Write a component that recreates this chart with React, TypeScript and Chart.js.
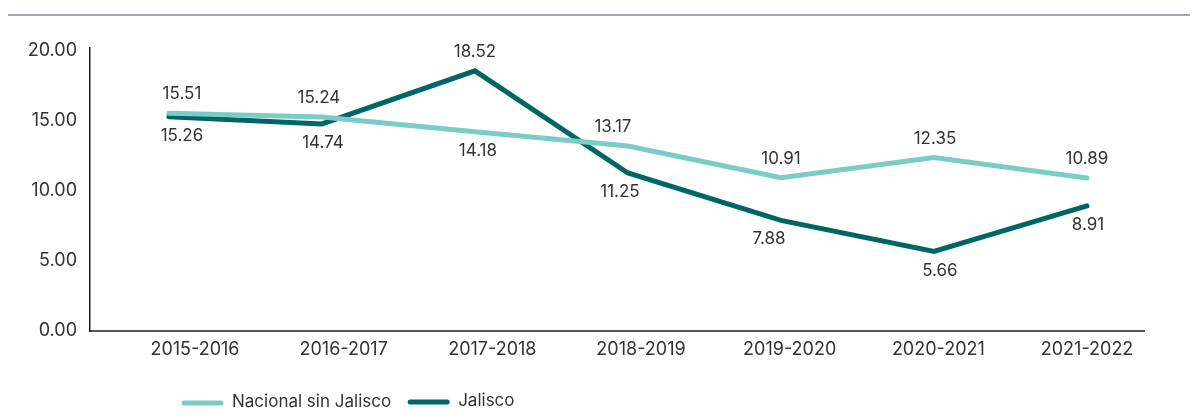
import React, { useEffect, useRef } from "react";
import { Chart, registerables } from "chart.js";

Chart.register(...registerables);

// ---- Data ----
const categories = ["2015-2016", "2016-2017", "2017-2018", "2018-2019", "2019-2020", "2020-2021", "2021-2022"];
const nacionalValues = [15.51, 15.24, 14.18, 13.17, 10.91, 12.35, 10.89];
const jaliscoValues = [15.26, 14.74, 18.52, 11.25, 7.88, 5.66, 8.91];
const yTickValues = [0, 5, 10, 15, 20];
const seriesNames = ["Nacional sin Jalisco", "Jalisco"];

// label placement (above / below the point)
const nacionalLabelSide = ["above", "above", "below", "above", "above", "above", "above"];
const jaliscoLabelSide = ["below", "below", "above", "below", "below", "below", "below"];
const nacionalLabelShift = [13, -3, 3, -15, 0, 1, 0];
const jaliscoLabelShift = [13, 1, 0, -8, -12, 6, 1];

const FONT = "Inter, 'Noto Sans', sans-serif";
const TEXT_COLOR = "#333333";
const LIGHT = "#7acdc6";
const DARK = "#006565";

const decorPlugin = {
  id: "decor",
  beforeDraw(chart: any) {
    const ctx = chart.ctx;
    ctx.save();
    ctx.strokeStyle = "#a3abb0";
    ctx.lineWidth = 2;
    ctx.beginPath();
    ctx.moveTo(0, 7);
    ctx.lineTo(chart.width, 7);
    ctx.stroke();
    ctx.restore();
  },
  afterDatasetsDraw(chart: any) {
    const ctx = chart.ctx;
    ctx.save();
    ctx.font = `17px ${FONT}`;
    ctx.fillStyle = TEXT_COLOR;
    ctx.textAlign = "center";
    ctx.textBaseline = "middle";
    const sides = [nacionalLabelSide, jaliscoLabelSide];
    const shifts = [nacionalLabelShift, jaliscoLabelShift];
    chart.data.datasets.forEach((ds: any, di: number) => {
      const meta = chart.getDatasetMeta(di);
      meta.data.forEach((pt: any, i: number) => {
        const v = ds.data[i].y;
        const dy = sides[di][i] === "above" ? -19 : 19;
        ctx.fillText(v.toFixed(2), pt.x + shifts[di][i], pt.y + dy);
      });
    });
    ctx.restore();
  },
  afterDraw(chart: any) {
    const ctx = chart.ctx;
    ctx.save();
    ctx.font = `17px ${FONT}`;
    ctx.textBaseline = "middle";
    ctx.textAlign = "left";
    let x = 174;
    const y = 395;
    const colors = [LIGHT, DARK];
    seriesNames.forEach((name, i) => {
      ctx.strokeStyle = colors[i];
      ctx.lineWidth = 5;
      ctx.lineCap = "round";
      ctx.beginPath();
      ctx.moveTo(x + 2, y - i);
      ctx.lineTo(x + 39, y - i);
      ctx.stroke();
      ctx.fillStyle = TEXT_COLOR;
      ctx.fillText(name, x + 50, y - 1 - i);
      x += 50 + ctx.measureText(name).width + 17;
    });
    ctx.restore();
  },
};

export default function App() {
  const ref = useRef<HTMLCanvasElement | null>(null);

  useEffect(() => {
    if (!ref.current) return;
    const chart = new Chart(ref.current, {
      type: "line",
      data: {
        datasets: [
          {
            label: seriesNames[0],
            data: nacionalValues.map((v, i) => ({ x: i, y: v })),
            borderColor: LIGHT,
            backgroundColor: LIGHT,
            borderWidth: 5,
            borderCapStyle: "round",
            pointRadius: 0,
            xAxisID: "x2",
            yAxisID: "y",
          },
          {
            label: seriesNames[1],
            data: jaliscoValues.map((v, i) => ({ x: i, y: v })),
            borderColor: DARK,
            backgroundColor: DARK,
            borderWidth: 5,
            borderCapStyle: "round",
            pointRadius: 0,
            xAxisID: "x2",
            yAxisID: "y",
          },
        ],
      },
      options: {
        responsive: true,
        maintainAspectRatio: false,
        animation: false,
        layout: { padding: { top: 40, right: 46, left: 0, bottom: 0 } },
        plugins: { legend: { display: false }, tooltip: { enabled: false } },
        scales: {
          x: {
            type: "linear",
            position: "bottom",
            min: -0.706,
            max: 6.383,
            afterBuildTicks: (s: any) => {
              s.ticks = categories.map((_, i) => ({ value: i }));
            },
            afterFit: (s: any) => {
              s.height = 81;
            },
            grid: { display: false, drawTicks: false },
            border: { display: true, color: "#555555", width: 2 },
            ticks: {
              callback: (v: any) => categories[v],
              font: { family: FONT, size: 18 },
              color: TEXT_COLOR,
              padding: 8,
              maxRotation: 0,
              autoSkip: false,
            },
          },
          x2: {
            type: "linear",
            display: false,
            min: -0.516,
            max: 6.373,
          },
          y: {
            min: 0,
            max: 20.15,
            afterBuildTicks: (s: any) => {
              s.ticks = yTickValues.map((v) => ({ value: v }));
            },
            afterFit: (s: any) => {
              s.width = 82;
            },
            grid: { display: false, drawTicks: false },
            border: { display: true, color: "#222222", width: 1.5 },
            ticks: {
              callback: (v: any) => Number(v).toFixed(2),
              font: { family: FONT, size: 18 },
              color: TEXT_COLOR,
              padding: 13,
            },
          },
        },
      },
      plugins: [decorPlugin],
    } as any);
    return () => chart.destroy();
  }, []);

  return (
    <div style={{ position: "relative", width: "100%", height: 404 }}>
      <canvas ref={ref} />
    </div>
  );
}
